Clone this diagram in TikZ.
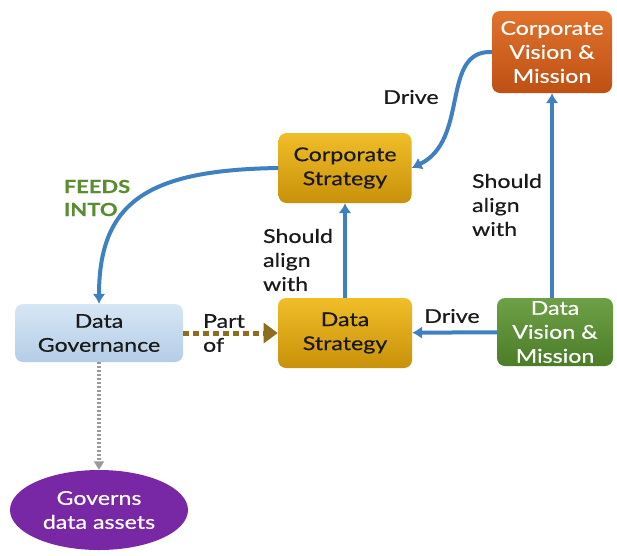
\documentclass[tikz,border=0pt]{standalone}
\usepackage{fontspec}
\setmainfont{Lato}[FakeStretch=1.22, FakeBold=0.5]
\usepackage{tikz}
\usetikzlibrary{shapes.geometric, positioning}
\usetikzlibrary{arrows.meta}
\tikzset{>={Latex[width=4.5mm,length=3.5mm]}}
\definecolor{flowblue}{RGB}{62,128,192}
\definecolor{goldtop}{RGB}{240,190,40}
\definecolor{goldbot}{RGB}{200,145,10}
\definecolor{orangetop}{RGB}{225,115,45}
\definecolor{orangebot}{RGB}{190,80,20}
\definecolor{greentop}{RGB}{110,160,70}
\definecolor{greenbot}{RGB}{75,125,40}
\definecolor{bluetop}{RGB}{215,230,245}
\definecolor{bluebot}{RGB}{180,205,230}
\definecolor{purplefill}{RGB}{120,40,165}
\definecolor{partbrown}{RGB}{140,110,30}
\definecolor{feedgreen}{RGB}{90,140,50}

\begin{document}
\begin{tikzpicture}[x=1pt, y=-1pt, font=\fontsize{19}{24}\selectfont]
% Define styles
\tikzstyle{box} = [rectangle, rounded corners=8pt, draw=none, align=center, inner sep=2pt]
\tikzstyle{gold} = [box, top color=goldtop, bottom color=goldbot, text=black!90]
\tikzstyle{oval} = [ellipse, draw=none, fill=purplefill, text=white, align=center, minimum width=178pt, minimum height=80pt]
\tikzstyle{flow} = [->, flowblue, line width=4pt]
\tikzstyle{tag} = [align=left, text=black!90]
\useasboundingbox (0,0) rectangle (617,555);
% Define nodes
\node[box, text=white, top color=orangetop, bottom color=orangebot, minimum width=120pt, minimum height=82pt] (cvm) at (552,52) {Corporate\\Vision \&\\Mission};
\node[gold, minimum width=133pt, minimum height=70pt] (cs) at (345,168) {Corporate\\Strategy};
\node[box, text=black!90, top color=bluetop, bottom color=bluebot, minimum width=168pt, minimum height=58pt] (dg) at (99,333) {Data\\Governance};
\node[gold, minimum width=134pt, minimum height=70pt] (ds) at (345,333) {Data\\Strategy};
\node[box, text=white, top color=greentop, bottom color=greenbot, minimum width=116pt, minimum height=68pt] (dvm) at (555,332) {Data\\Vision \&\\Mission};
\node[oval] (gda) at (99,510) {Governs\\data assets};
% Labels
\node[tag] (drive1) at (411,97) {Drive};
\node[tag] (drive2) at (452,316) {Drive};
\node[tag] (align1) at (298,260) {Should\\align\\with};
\node[tag] (align2) at (507,205) {Should\\align\\with};
\node[tag] (partof) at (224,333) {Part\\of};
\node[align=left, text=feedgreen, font=\fontsize{18}{23}\selectfont\bfseries] (feeds) at (97,198) {FEEDS\\INTO};
% Connect the nodes
\draw[flow] (ds) -- (cs);
\draw[flow] (dvm.north -| cvm) -- (cvm);
\draw[flow] (dvm) -- (ds);
\draw[flow] (cvm.west) .. controls (440,50) and (470,140) .. (cs.east);
\draw[flow] (cs.west) .. controls (150,170) and (99,200) .. (dg.north);
\draw[partbrown, line width=5pt, dash pattern=on 6pt off 4pt, -{Triangle[width=7mm,length=5mm]}] (dg) -- (ds);
\draw[black!40, line width=3.5pt, dash pattern=on 2pt off 2pt, -{Triangle[width=3.5mm,length=3mm]}] (dg) -- (gda);
\end{tikzpicture}
\end{document}
